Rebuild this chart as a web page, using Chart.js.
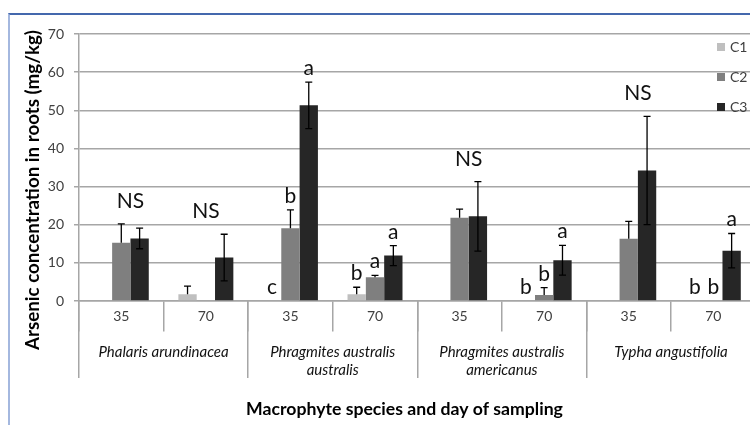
<!DOCTYPE html>
<html>
<head>
<meta charset="utf-8">
<script src="https://cdn.jsdelivr.net/npm/chart.js@4.4.1/dist/chart.umd.min.js"></script>
<style>
  html, body { margin: 0; padding: 0; background: #ffffff; overflow: hidden; width: 750px; height: 425px; }
  #frame { position: absolute; left: 8px; top: 13px; width: 900px; height: 600px;
           border-top: 2px solid #4468ad; border-left: 2px solid #a4b8df; box-sizing: border-box; }
  #c { position: absolute; left: 0; top: 0; }
</style>
</head>
<body>
<div id="frame"></div>
<canvas id="c" width="770" height="425"></canvas>
<script>
// ---- data ----
const categories = ['35', '70', '35', '70', '35', '70', '35', '70'];
const species = ['Phalaris arundinacea', ['Phragmites australis', 'australis'], ['Phragmites australis', 'americanus'], 'Typha angustifolia'];
const seriesNames = ['C1', 'C2', 'C3'];
const c1Values = [0, 1.8, 0, 1.8, 0, 0, 0, 0];
const c2Values = [15.3, 0, 19.1, 6.2, 21.8, 1.6, 16.3, 0];
const c3Values = [16.4, 11.4, 51.3, 11.9, 22.2, 10.7, 34.2, 13.2];
const c1Errors = [0, 2.1, 0, 1.8, 0, 0, 0, 0];
const c2Errors = [4.9, 0, 4.8, 0.5, 2.3, 1.9, 4.6, 0];
const c3Errors = [2.7, 6.1, 6.1, 2.6, 9.1, 3.9, 14.2, 4.5];
const c1Letters = ['', '', 'c', 'b', '', 'b', '', 'b'];
const c2Letters = ['', '', 'b', 'a', '', 'b', '', 'b'];
const c3Letters = ['', '', 'a', 'a', '', 'a', '', 'a'];
const groupLabels = ['NS', 'NS', '', '', 'NS', '', 'NS', ''];
const yMin = 0, yMax = 70, yStep = 10;
const xTitle = 'Macrophyte species and day of sampling';
const yTitle = 'Arsenic concentration in roots (mg/kg)';

const FONT = 'Lato, "Open Sans", "DejaVu Sans", sans-serif';
const gridColor = '#a6a6a6';
const tickColor = '#404040';

function fitFont(ctx, text, weight, target) {
  let size = 18;
  ctx.font = weight + ' ' + size + 'px ' + FONT;
  const w = ctx.measureText(text).width;
  size = size * target / w;
  return weight + ' ' + size.toFixed(2) + 'px ' + FONT;
}

const extras = {
  id: 'extras',
  afterDatasetsDraw(chart) {
    const ctx = chart.ctx;
    const ys = chart.scales.y;
    ctx.save();
    // error bars
    chart.data.datasets.forEach((ds, i) => {
      const meta = chart.getDatasetMeta(i);
      ds.data.forEach((v, j) => {
        const e = ds.errors[j];
        if (!e) return;
        const x = meta.data[j].x;
        const yTop = ys.getPixelForValue(v + e);
        const yBot = ds.errBoth ? ys.getPixelForValue(v - e) : ys.getPixelForValue(v);
        ctx.strokeStyle = '#000';
        ctx.lineWidth = 1.3;
        ctx.beginPath();
        ctx.moveTo(x, yTop); ctx.lineTo(x, yBot);
        ctx.moveTo(x - 3.5, yTop); ctx.lineTo(x + 3.5, yTop);
        if (ds.errBoth) { ctx.moveTo(x - 3.5, yBot); ctx.lineTo(x + 3.5, yBot); }
        ctx.stroke();
      });
    });
    // significance letters per bar
    ctx.fillStyle = '#111';
    ctx.font = '21px ' + FONT;
    ctx.textAlign = 'center';
    ctx.textBaseline = 'alphabetic';
    chart.data.datasets.forEach((ds, i) => {
      const meta = chart.getDatasetMeta(i);
      ds.letters.forEach((t, j) => {
        if (!t) return;
        const x = meta.data[j].x;
        const top = ys.getPixelForValue(ds.data[j] + (ds.errors[j] || 0));
        ctx.fillText(t, x, top - 7);
      });
    });
    // group-level labels (NS)
    groupLabels.forEach((t, j) => {
      if (!t) return;
      let xs = [], top = Infinity;
      chart.data.datasets.forEach((ds, i) => {
        if (ds.data[j] > 0) {
          xs.push(chart.getDatasetMeta(i).data[j].x);
          top = Math.min(top, ys.getPixelForValue(ds.data[j] + (ds.errors[j] || 0)));
        }
      });
      const x = xs.reduce((a, b) => a + b, 0) / xs.length;
      ctx.fillText(t, x, top - 16);
    });
    // legend
    ctx.font = '14px ' + FONT;
    ctx.textAlign = 'left';
    ctx.textBaseline = 'middle';
    chart.data.datasets.forEach((ds, i) => {
      const cy = 47 + i * 30;
      ctx.fillStyle = ds.backgroundColor;
      ctx.fillRect(717, cy - 4, 8, 8);
      ctx.fillStyle = tickColor;
      ctx.fillText(ds.label, 730, cy);
    });
    // axis titles
    ctx.fillStyle = '#000';
    ctx.textAlign = 'center';
    ctx.font = fitFont(ctx, xTitle, 'bold', 317);
    ctx.fillText(xTitle, 404.5, 409);
    ctx.translate(33, 190);
    ctx.rotate(-Math.PI / 2);
    ctx.font = fitFont(ctx, yTitle, 'bold', 320);
    ctx.fillText(yTitle, 0, 0);
    ctx.restore();
  }
};

const colors = ['#bfbfbf', '#7f7f7f', '#262626'];
const values = [c1Values, c2Values, c3Values];
const errors = [c1Errors, c2Errors, c3Errors];
const letters = [c1Letters, c2Letters, c3Letters];

new Chart(document.getElementById('c'), {
  type: 'bar',
  data: {
    labels: categories,
    datasets: seriesNames.map((name, i) => ({
      label: name,
      data: values[i],
      errors: errors[i],
      letters: letters[i],
      errBoth: i === 2,
      backgroundColor: colors[i],
      borderWidth: 0,
      categoryPercentage: 0.65,
      barPercentage: 1.0
    }))
  },
  options: {
    responsive: false,
    animation: false,
    devicePixelRatio: 1,
    layout: { padding: { left: 0, right: 14.4, top: 34, bottom: 124 } },
    plugins: { legend: { display: false }, tooltip: { enabled: false } },
    scales: {
      x: {
        type: 'category',
        labels: categories,
        position: { y: 0 },
        offset: true,
        grid: { offset: true, drawOnChartArea: false, tickLength: 30, color: gridColor, lineWidth: 1.5 },
        border: { display: true, color: gridColor, width: 1.5 },
        ticks: { padding: -23.4, color: tickColor, font: { family: FONT, size: 14 }, maxRotation: 0, autoSkip: false }
      },
      x2: {
        type: 'category',
        labels: species,
        position: { y: 0 },
        offset: true,
        grid: { offset: true, drawOnChartArea: false, tickLength: 77, color: gridColor, lineWidth: 1.5 },
        border: { display: false },
        ticks: { padding: -34.5, color: '#111', font: { family: FONT, size: 15, style: 'italic', lineHeight: 1.2 }, maxRotation: 0, autoSkip: false }
      },
      y: {
        min: yMin, max: yMax,
        ticks: { stepSize: yStep, padding: 10, color: tickColor, font: { family: FONT, size: 14 } },
        grid: { color: gridColor, lineWidth: 1.5, tickLength: 5 },
        border: { display: true, color: gridColor, width: 1.5 },
        afterFit(scale) { scale.width = 79; }
      }
    }
  },
  plugins: [extras]
});
</script>
</body>
</html>
